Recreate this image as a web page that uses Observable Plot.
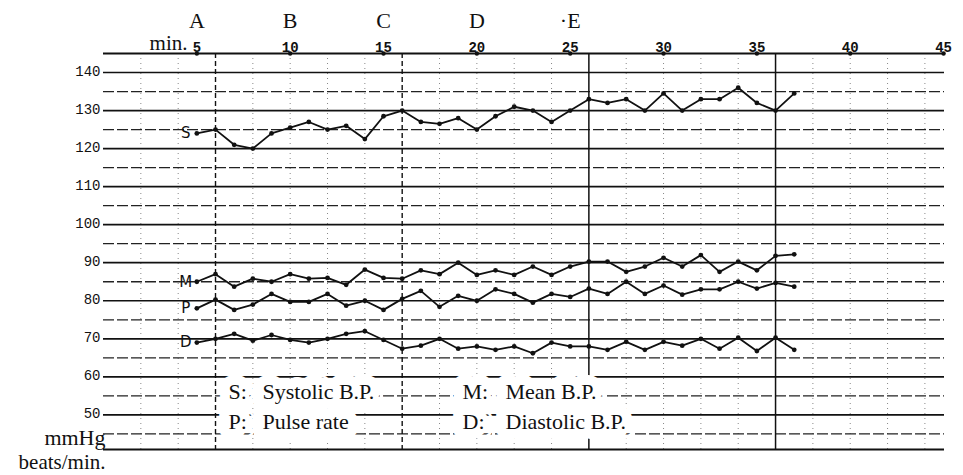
<!DOCTYPE html>
<html><head><meta charset="utf-8">
<script src="https://cdn.jsdelivr.net/npm/d3@7"></script>
<script src="https://cdn.jsdelivr.net/npm/@observablehq/plot@0.6"></script>
<style>body{margin:0;background:#fff}#chart svg{display:block}</style>
</head><body><div id="chart"></div>
<script>
// ---- data ----
const minutes   = [5,6,7,8,9,10,11,12,13,14,15,16,17,18,19,20,21,22,23,24,25,26,27,28,29,30,31,32,33,34,35,36,37];
const systolic  = [124,125,121,120,124,125.5,127,125,126,122.5,128.5,130,127,126.5,128,125,128.5,131,130,127,130,133,132,133,130,134.5,130,133,133,136,132,130,134.5];
const meanBP    = [85,87,83.7,85.8,85,87,85.8,86,84.2,88.2,86,85.8,88,87,90,86.8,88,86.8,89,86.8,89,90.3,90.3,87.6,89,91.3,89,92,87.6,90.3,88,91.8,92.2];
const pulse     = [78,80.3,77.6,79,81.8,79.7,79.7,81.8,78.7,80,77.6,80.5,82.6,78.4,81.3,80,83,81.8,79.5,81.8,81,83.2,81.8,85,81.8,84,81.6,83,83,85,83.2,84.7,83.7];
const diastolic = [69,70,71.3,69.5,71,69.7,69,70,71.3,72,69.7,67.4,68.2,70,67.4,68,67.1,68,66.2,69,68,68,67.1,69.2,67.1,69.2,68.2,70,67.4,70.3,66.8,70.3,67.1];
const seriesKeys = ["S","M","P","D"];
const legendKeys1 = ["S:", "P:"];
const legendText1 = ["Systolic B.P.", "Pulse rate"];
const legendKeys2 = ["M:", "D:"];
const legendText2 = ["Mean B.P.", "Diastolic B.P."];
const xTicks = [5,10,15,20,25,30,35,40,45];
const yTicks = [50,60,70,80,90,100,110,120,130,140];
const yHalfTicks = [45,55,65,75,85,95,105,115,125,135];
const phaseLetters = ["A","B","C","D","·E"];
const phaseMinutes = [5,10,15,20,25];
const majorVerticals = [6,16,26,36];
const minorVerticals = [2,4,8,10,12,14,18,20,22,24,28,30,32,34,38,40,42,44];

// ---- build table ----
const seriesValues = [systolic, meanBP, pulse, diastolic];
const rows = [];
seriesKeys.forEach((k, i) => minutes.forEach((m, j) => rows.push({series: k, minute: m, value: seriesValues[i][j]})));
const firsts = seriesKeys.map((k, i) => ({series: k, minute: minutes[0], value: seriesValues[i][0]}));

const xDomain = [0, 45.05];
const yDomain = [40.9, 145];
const serif = "Liberation Serif, Times New Roman, serif";
const mono = "Liberation Mono, DejaVu Sans Mono, monospace";

const legendStyle = {frameAnchor: "bottom-left", textAnchor: "start", lineAnchor: "middle",
  lineHeight: 1.38, dy: -45, fontSize: 22, fontFamily: serif, stroke: "white", strokeWidth: 20, fill: "#111"};

const chart = Plot.plot({
  width: 963, height: 475,
  marginTop: 53, marginBottom: 26, marginLeft: 103, marginRight: 19,
  x: {domain: xDomain},
  y: {domain: yDomain},
  style: {background: "#fff", color: "#111"},
  marks: [
    Plot.ruleX(minorVerticals, {stroke: "#888", strokeWidth: 1, strokeDasharray: "1,4"}),
    Plot.ruleY(yHalfTicks, {stroke: "#222", strokeWidth: 1.3, strokeDasharray: "11,3"}),
    Plot.ruleY(yTicks, {stroke: "#111", strokeWidth: 1.7}),
    Plot.ruleX(majorVerticals.slice(0, 2), {stroke: "#111", strokeWidth: 1.4, strokeDasharray: "5,3"}),
    Plot.ruleX(majorVerticals.slice(2), {stroke: "#111", strokeWidth: 1.5}),
    Plot.ruleY([yDomain[1]], {stroke: "#111", strokeWidth: 2}),
    Plot.ruleY([yDomain[0]], {stroke: "#111", strokeWidth: 2}),
    Plot.dot(xTicks, {x: d => d, frameAnchor: "top", r: 2.2, fill: "#111"}),
    Plot.axisX(xTicks, {anchor: "top", tickSize: 0, tickPadding: 2, label: null,
      fontSize: 14, fontFamily: mono, fontWeight: "bold"}),
    Plot.axisY(yTicks, {anchor: "left", tickSize: 0, tickPadding: 3, label: null,
      fontSize: 14, fontFamily: mono, dy: -1}),
    Plot.text(phaseLetters, {x: (d, i) => phaseMinutes[i], text: d => d, frameAnchor: "top", lineAnchor: "middle", dy: -33,
      fontSize: 22, fontFamily: serif, fill: "#111"}),
    Plot.text(["min."], {frameAnchor: "top-left", lineAnchor: "middle", textAnchor: "end", dx: 84, dy: -10, fontSize: 21, fontFamily: serif, fill: "#111"}),
    Plot.text(["mmHg"], {frameAnchor: "bottom-left", lineAnchor: "middle", textAnchor: "end", dx: 2, dy: -12, fontSize: 22, fontFamily: serif, fill: "#111"}),
    Plot.text(["beats/min."], {frameAnchor: "bottom-left", lineAnchor: "middle", textAnchor: "end", dx: 2, dy: 13, fontSize: 21, fontFamily: serif, fill: "#111"}),
    Plot.line(rows, {x: "minute", y: "value", z: "series", stroke: "#111", strokeWidth: 1.8}),
    Plot.dot(rows, {x: "minute", y: "value", r: 2.4, fill: "#111"}),
    Plot.text(firsts, {x: "minute", y: "value", text: "series", dx: -11, fontSize: 15, fill: "#111", fontFamily: "DejaVu Sans, sans-serif"}),
    Plot.text([legendKeys1.join("\n")], {...legendStyle, dx: 125}),
    Plot.text([legendText1.join("\n")], {...legendStyle, dx: 159}),
    Plot.text([legendKeys2.join("\n")], {...legendStyle, dx: 359}),
    Plot.text([legendText2.join("\n")], {...legendStyle, dx: 402})
  ]
});
document.getElementById("chart").appendChild(chart);
</script>
</body></html>
